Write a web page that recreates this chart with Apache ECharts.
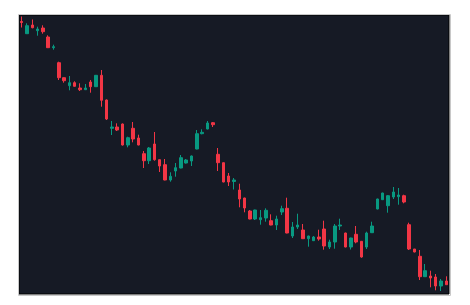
<!DOCTYPE html>
<html>
<head>
<meta charset="utf-8">
<script src="https://cdn.jsdelivr.net/npm/echarts@6/dist/echarts.min.js"></script>
<style>
html,body{margin:0;padding:0;background:#fff;}
#c{width:470px;height:305px;}
</style>
</head>
<body>
<div id="c"></div>
<script>
const categories = Array.from({length: 81}, (_, i) => 'D' + (i + 1));
const openValues = [272.5,260.3,269,263.3,266,257,246.3,231.3,216.3,208.3,211.3,206,204.3,212,207.3,218.7,194,165.7,167,170,149,165.7,156,140.3,133.3,150,134.3,129.3,114,123,126,131,133,145,160.3,165,171.3,139.7,131.3,118,112.5,104,96,83,75,74.3,76,73.3,69,82,85.7,58,67,64,55.3,53.3,57,65,47,52,68,61,47,59.7,52.7,47,61.3,85,94.3,88.3,97,97.3,98.3,69.3,45,37.7,17.3,18,17,8,13];
const closeValues = [271.5,268.3,266.3,265,262.3,246.3,247.3,216.3,213.3,211.3,207.7,204.3,206,207.3,218.7,193.7,175,167,164,149,156.3,155,149,133.3,146,134.3,128,114,117.7,126.3,136.3,134,138,160.3,161.7,171,169.3,131.3,112,112,114,95,86,75,84,76.3,83.7,69,75,85.3,61,67,69,55.3,58,57,55,48,52,68,69,47,56,52,37,61,68,95,101,98.3,102,99,92,45,42,17.3,23.3,16,8,13,9.3];
const lowValues = [266.5,260.3,265.7,258.3,260.3,246,244.3,214,211.3,203.7,207.5,203,204.2,201.3,207.2,187.3,174,159,163,148.5,146.7,151.7,148.7,126,130,133.3,122,113.7,112.3,117.3,125.7,130.5,128,144.7,159.7,164.7,167,123,111.7,108,104.5,86.7,81.7,74.7,74,69.3,72.3,68.7,64,79,60.7,56,65,55,47.3,53,53.3,44.3,45,45.3,64,46.7,44.5,50.7,36.3,45,61,84.7,94,81.3,95,89.3,90.7,44,41.7,14,17,6.7,3.7,3,9];
const highValues = [277.5,270.7,274.5,267.3,268.7,258.7,249.3,232.3,216.5,218,212.7,210.7,210,214,219,224,194.5,173,170.7,170.5,157.3,172,159.3,143,147,162,134.5,135,121.7,131,139,135,138.5,164,164.7,173,172,146,131.5,121,116,110.3,96.3,84,84.3,84,85.7,79.7,78.3,88.3,96.3,72,80.3,70,58.3,58,64.3,73.3,54.3,70,75.3,61.3,56.3,68,53,62.3,72.3,95.3,101.3,99,107,106,99.3,71.3,45,44,30,23.3,20,15,17.7];

const ohlc = categories.map((c, i) => [openValues[i], closeValues[i], lowValues[i], highValues[i]]);

const chart = echarts.init(document.getElementById('c'), null, {renderer: 'canvas'});
chart.setOption({
  animation: false,
  backgroundColor: '#ffffff',
  grid: {
    left: 19, right: 21, top: 15, bottom: 11,
    show: true,
    backgroundColor: '#161a25',
    borderColor: '#000000',
    borderWidth: 1
  },
  graphic: [{
    type: 'rect',
    shape: {x: 18.5, y: 14.5, width: 432, height: 281},
    style: {fill: null, stroke: '#c8c8c8', lineWidth: 1},
    silent: true
  }],
  xAxis: {
    type: 'category',
    data: categories,
    boundaryGap: true,
    show: false
  },
  yAxis: {
    type: 'value',
    min: 0,
    max: 279,
    show: false,
    splitLine: {show: false}
  },
  series: [{
    type: 'candlestick',
    data: ohlc,
    barWidth: 3,
    itemStyle: {
      color: '#089981',
      color0: '#f23645',
      borderColor: '#089981',
      borderColor0: '#f23645',
      borderWidth: 1
    }
  }]
});
</script>
</body>
</html>
